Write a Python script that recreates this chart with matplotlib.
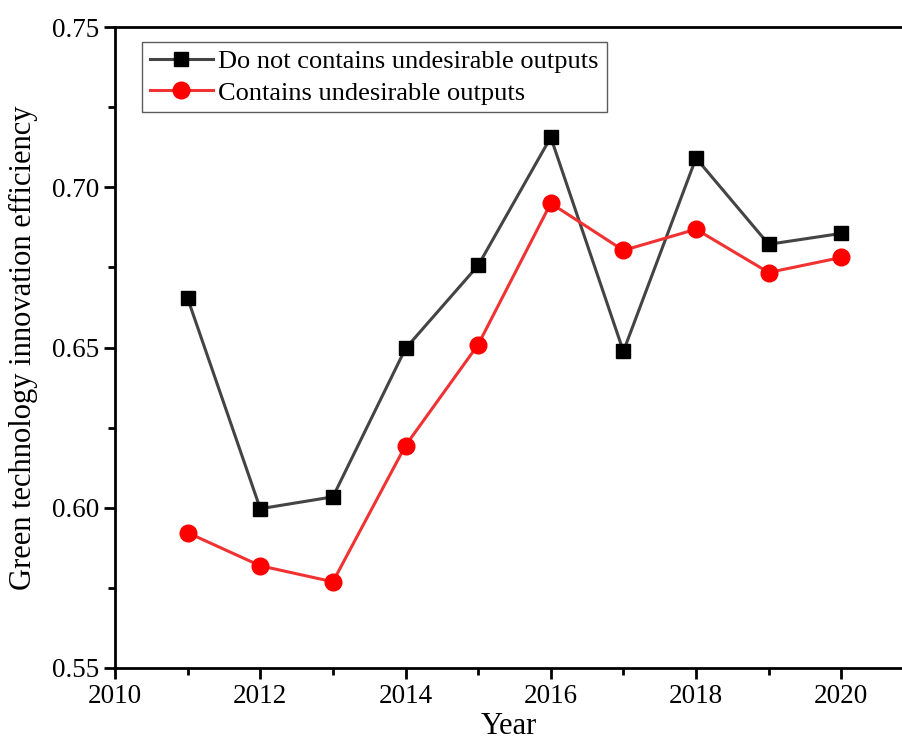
import numpy as np
import matplotlib.pyplot as plt
from matplotlib.ticker import MultipleLocator

plt.rcParams['font.family'] = ['Liberation Serif', 'DejaVu Serif']

# values
years = [2011, 2012, 2013, 2014, 2015, 2016, 2017, 2018, 2019, 2020]
without_undesirable = [0.6653, 0.5997, 0.6034, 0.6497, 0.6756, 0.7156, 0.6488, 0.7091, 0.6822, 0.6856]
with_undesirable = [0.5922, 0.5819, 0.5769, 0.6194, 0.6509, 0.6950, 0.6803, 0.6869, 0.6734, 0.6781]

fig = plt.figure(figsize=(9.03, 7.40), dpi=100)
# the reference image is cropped on the right, so the axes run to the edge
ax = fig.add_axes([0.1274, 0.0973, 0.8726, 0.8662])

ax.plot(years, without_undesirable, color="#444444", lw=2.2, marker="s", ms=10.5,
        mfc="black", mec="black", label="Do not contains undesirable outputs")
ax.plot(years, with_undesirable, color="#f03232", lw=2.2, marker="o", ms=12,
        mfc="red", mec="red", label="Contains undesirable outputs")

ax.set_xlim(2010, 2020.85)
ax.set_ylim(0.55, 0.75)
ax.xaxis.set_major_locator(MultipleLocator(2))
ax.xaxis.set_minor_locator(MultipleLocator(1))
ax.yaxis.set_major_locator(MultipleLocator(0.05))
ax.yaxis.set_minor_locator(MultipleLocator(0.025))
ax.yaxis.set_major_formatter(plt.FormatStrFormatter("%.2f"))

for side in ["top", "bottom", "left"]:
    ax.spines[side].set_linewidth(2)
ax.spines["right"].set_visible(False)
ax.tick_params(which="major", direction="out", length=8, width=2, labelsize=19.5,
               top=False, right=False)
ax.tick_params(which="minor", direction="out", length=5, width=2, top=False, right=False)

ax.set_xlabel("Year", fontsize=22, labelpad=2)
ax.set_ylabel("Green technology innovation efficiency", fontsize=22, labelpad=10)

leg = ax.legend(loc="upper left", bbox_to_anchor=(0.034, 0.977), fontsize=19,
                frameon=True, fancybox=False, edgecolor="#333333", borderpad=0.3,
                handlelength=2.4, handletextpad=0.2, labelspacing=0.3, borderaxespad=0)
leg.get_frame().set_linewidth(1)

fig.savefig("out.png", dpi=100)
